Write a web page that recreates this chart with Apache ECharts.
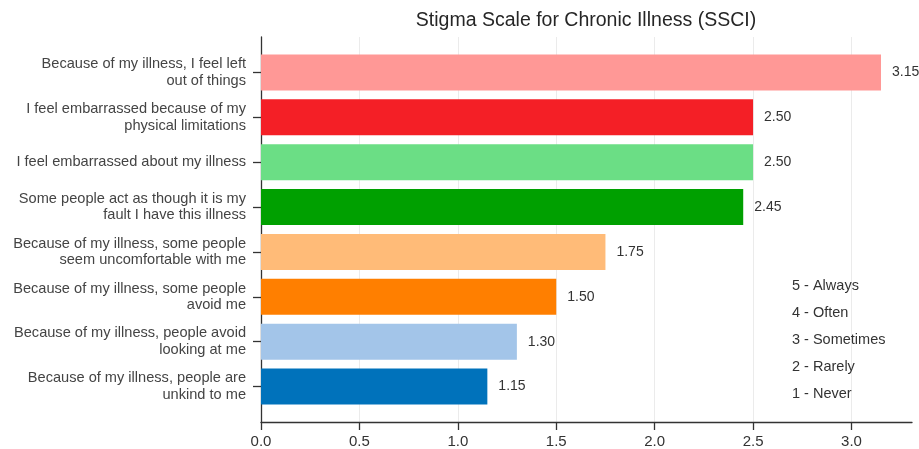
<!DOCTYPE html>
<html>
<head>
<meta charset="utf-8">
<script src="https://cdn.jsdelivr.net/npm/echarts@6/dist/echarts.min.js"></script>
<style>html,body{margin:0;padding:0;background:#fff}#c{width:919px;height:449px}</style>
</head>
<body>
<div id="c"></div>
<script>
const chartTitle = 'Stigma Scale for Chronic Illness (SSCI)';
const categories = [
  'Because of my illness, I feel left\nout of things',
  'I feel embarrassed because of my\nphysical limitations',
  'I feel embarrassed about my illness',
  'Some people act as though it is my\nfault I have this illness',
  'Because of my illness, some people\nseem uncomfortable with me',
  'Because of my illness, some people\navoid me',
  'Because of my illness, people avoid\nlooking at me',
  'Because of my illness, people are\nunkind to me'
];
const values = [3.15, 2.50, 2.50, 2.45, 1.75, 1.50, 1.30, 1.15];
const barColors = ['#ff9896', '#f41f26', '#6bde85', '#00a000', '#ffbb78', '#ff7f00', '#a3c5e9', '#0072bb'];
const xTicks = [0, 0.5, 1.0, 1.5, 2.0, 2.5, 3.0];
const scaleNotes = ['5 - Always', '4 - Often', '3 - Sometimes', '2 - Rarely', '1 - Never'];
const xMax = 3.3075;

const font = 'Liberation Sans, Arial, sans-serif';
const chart = echarts.init(document.getElementById('c'), null, {renderer: 'canvas'});
chart.setOption({
  animation: false,
  textStyle: {fontFamily: font},
  title: [
    {text: chartTitle, left: 586, textAlign: 'center', top: 11, padding: 0,
     textStyle: {fontSize: 19.5, fontWeight: 'normal', color: '#262626', fontFamily: font}},
    {text: scaleNotes.join('\n'), left: 792, top: 272, padding: 0,
     textStyle: {fontSize: 14.5, fontWeight: 'normal', color: '#333', lineHeight: 27, fontFamily: font}}
  ],
  grid: [
    {left: 261, right: 7, top: 50, bottom: 40, containLabel: false},
    {left: 261, right: 7, top: 37, bottom: 27, containLabel: false},
    {left: 261, right: 67.5, top: 37, bottom: 27, containLabel: false}
  ],
  xAxis: [
    {gridIndex: 0, type: 'value', min: 0, max: xMax, show: false},
    {gridIndex: 1, type: 'value', min: 0, max: xMax, interval: 0.5,
     axisLine: {show: true, lineStyle: {color: '#333', width: 1.3}},
     axisTick: {show: true, length: 8, customValues: xTicks, lineStyle: {color: '#333', width: 1.3}},
     axisLabel: {customValues: xTicks, margin: 12, fontSize: 15, color: '#333', fontFamily: font,
       formatter: v => Number(v).toFixed(1)},
     splitLine: {show: false}},
    {gridIndex: 2, type: 'value', min: 0, max: 3.0, interval: 0.5,
     axisLine: {show: false}, axisTick: {show: false}, axisLabel: {show: false},
     splitLine: {show: true, lineStyle: {color: '#ebebeb', width: 1}}}
  ],
  yAxis: [
    {gridIndex: 0, type: 'category', data: categories, inverse: true,
     axisLine: {show: false},
     axisTick: {show: true, alignWithLabel: true, length: 8, lineStyle: {color: '#333', width: 1.3}},
     axisLabel: {margin: 15, fontSize: 14.6, color: '#444', lineHeight: 16.5, align: 'right',
       padding: [4, 0, 0, 0], fontFamily: font}},
    {gridIndex: 1, type: 'value', min: 0, max: 1,
     axisLine: {show: true, lineStyle: {color: '#333', width: 1.3}},
     axisTick: {show: false}, axisLabel: {show: false}, splitLine: {show: false}},
    {gridIndex: 2, type: 'value', min: 0, max: 1, show: false}
  ],
  series: [{
    type: 'bar',
    xAxisIndex: 0, yAxisIndex: 0,
    barWidth: '80%',
    data: values.map((v, i) => ({value: v, itemStyle: {color: barColors[i]}})),
    label: {show: true, position: 'right', distance: 11, fontSize: 14, color: '#333', fontFamily: font,
      formatter: p => p.value.toFixed(2)},
    z: 2
  }]
});
</script>
</body>
</html>
